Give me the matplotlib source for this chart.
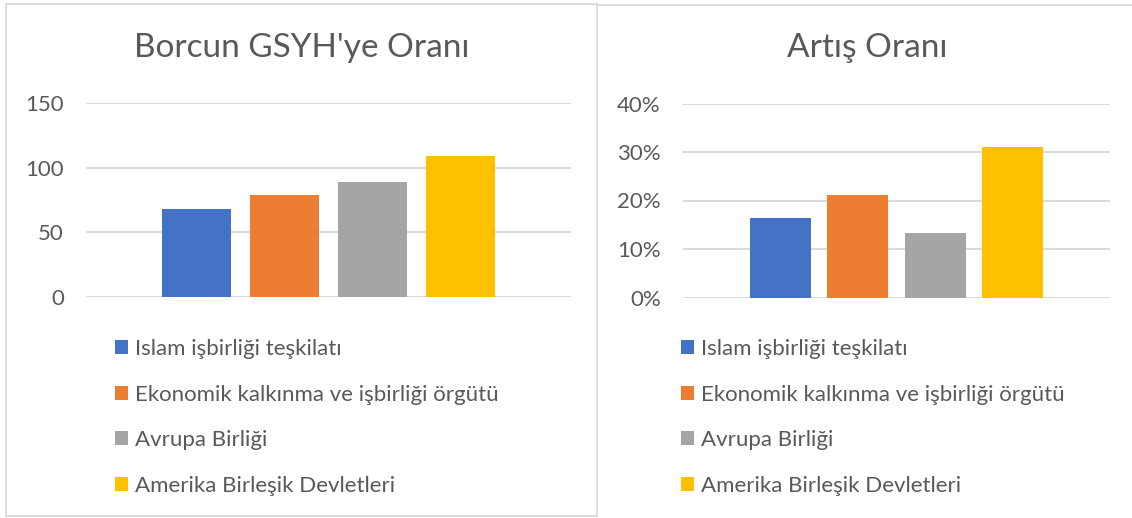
import matplotlib
matplotlib.use("Agg")
import matplotlib.pyplot as plt
from matplotlib.lines import Line2D
from matplotlib.ticker import PercentFormatter

# veriler
seriler = ["Islam işbirliği teşkilatı", "Ekonomik kalkınma ve işbirliği örgütü",
           "Avrupa Birliği", "Amerika Birleşik Devletleri"]
renkler = ["#4472C4", "#ED7D31", "#A5A5A5", "#FFC000"]
borc_gsyh = [68, 79, 89, 109]
artis_orani = [0.163, 0.211, 0.133, 0.31]

W, H = 1132, 518
plt.rcParams['font.family'] = ['Lato', 'DejaVu Sans']
yazi = "#595959"
cizgi = "#D9D9D9"

fig = plt.figure(figsize=(W / 100, H / 100), dpi=100)

def px(x0, y0, x1, y1):
    # piksel kutusunu figür oranına çevir
    return [x0 / W, 1 - y1 / H, (x1 - x0) / W, (y1 - y0) / H]

# panel çerçeveleri
fig.add_artist(plt.Rectangle((6 / W, 1 - 516 / H), 591 / W, 512 / H, fill=False,
                             edgecolor=cizgi, lw=1.3, transform=fig.transFigure))
fig.add_artist(Line2D([597 / W, 1.0], [1 - 5 / H, 1 - 5 / H], color=cizgi, lw=1.3,
                      transform=fig.transFigure))

def ciz(ax, degerler, ymax, adim):
    w = 1 / 7.0
    for i, (v, r, s) in enumerate(zip(degerler, renkler, seriler)):
        sol = 1.095 * w + i * 1.27 * w
        ax.bar(sol, v, width=w, align='edge', color=r, label=s, zorder=3)
    ax.set_xlim(0, 1)
    ax.set_ylim(0, ymax)
    ax.set_yticks([adim * k for k in range(int(round(ymax / adim)) + 1)])
    ax.grid(axis='y', color=cizgi, lw=1.4, zorder=0)
    for sp in ax.spines.values():
        sp.set_visible(False)
    ax.set_xticks([])
    ax.tick_params(axis='y', length=0, labelsize=16, labelcolor=yazi, pad=16)

ax1 = fig.add_axes(px(86, 103, 571, 297))
ciz(ax1, borc_gsyh, 150, 50)
ax2 = fig.add_axes(px(683, 103.5, 1110, 297.5))
ciz(ax2, artis_orani, 0.4, 0.1)
ax2.yaxis.set_major_formatter(PercentFormatter(1.0, decimals=0))

fig.text(301.5 / W, 1 - 48 / H, "Borcun GSYH'ye Oranı", ha='center', va='center',
         fontsize=24, color=yazi)
fig.text(867 / W, 1 - 48 / H, "Artış Oranı", ha='center', va='center',
         fontsize=24, color=yazi)

for ax, x0 in [(ax1, 115), (ax2, 681)]:
    fig.legend(*ax.get_legend_handles_labels(), loc='upper left',
               bbox_to_anchor=(x0 / W, 1 - 339 / H), frameon=False, fontsize=16,
               labelcolor=yazi, handlelength=0.6, handleheight=0.6,
               handletextpad=0.3, labelspacing=1.15, borderpad=0, borderaxespad=0)

fig.savefig("out.png", dpi=100)
